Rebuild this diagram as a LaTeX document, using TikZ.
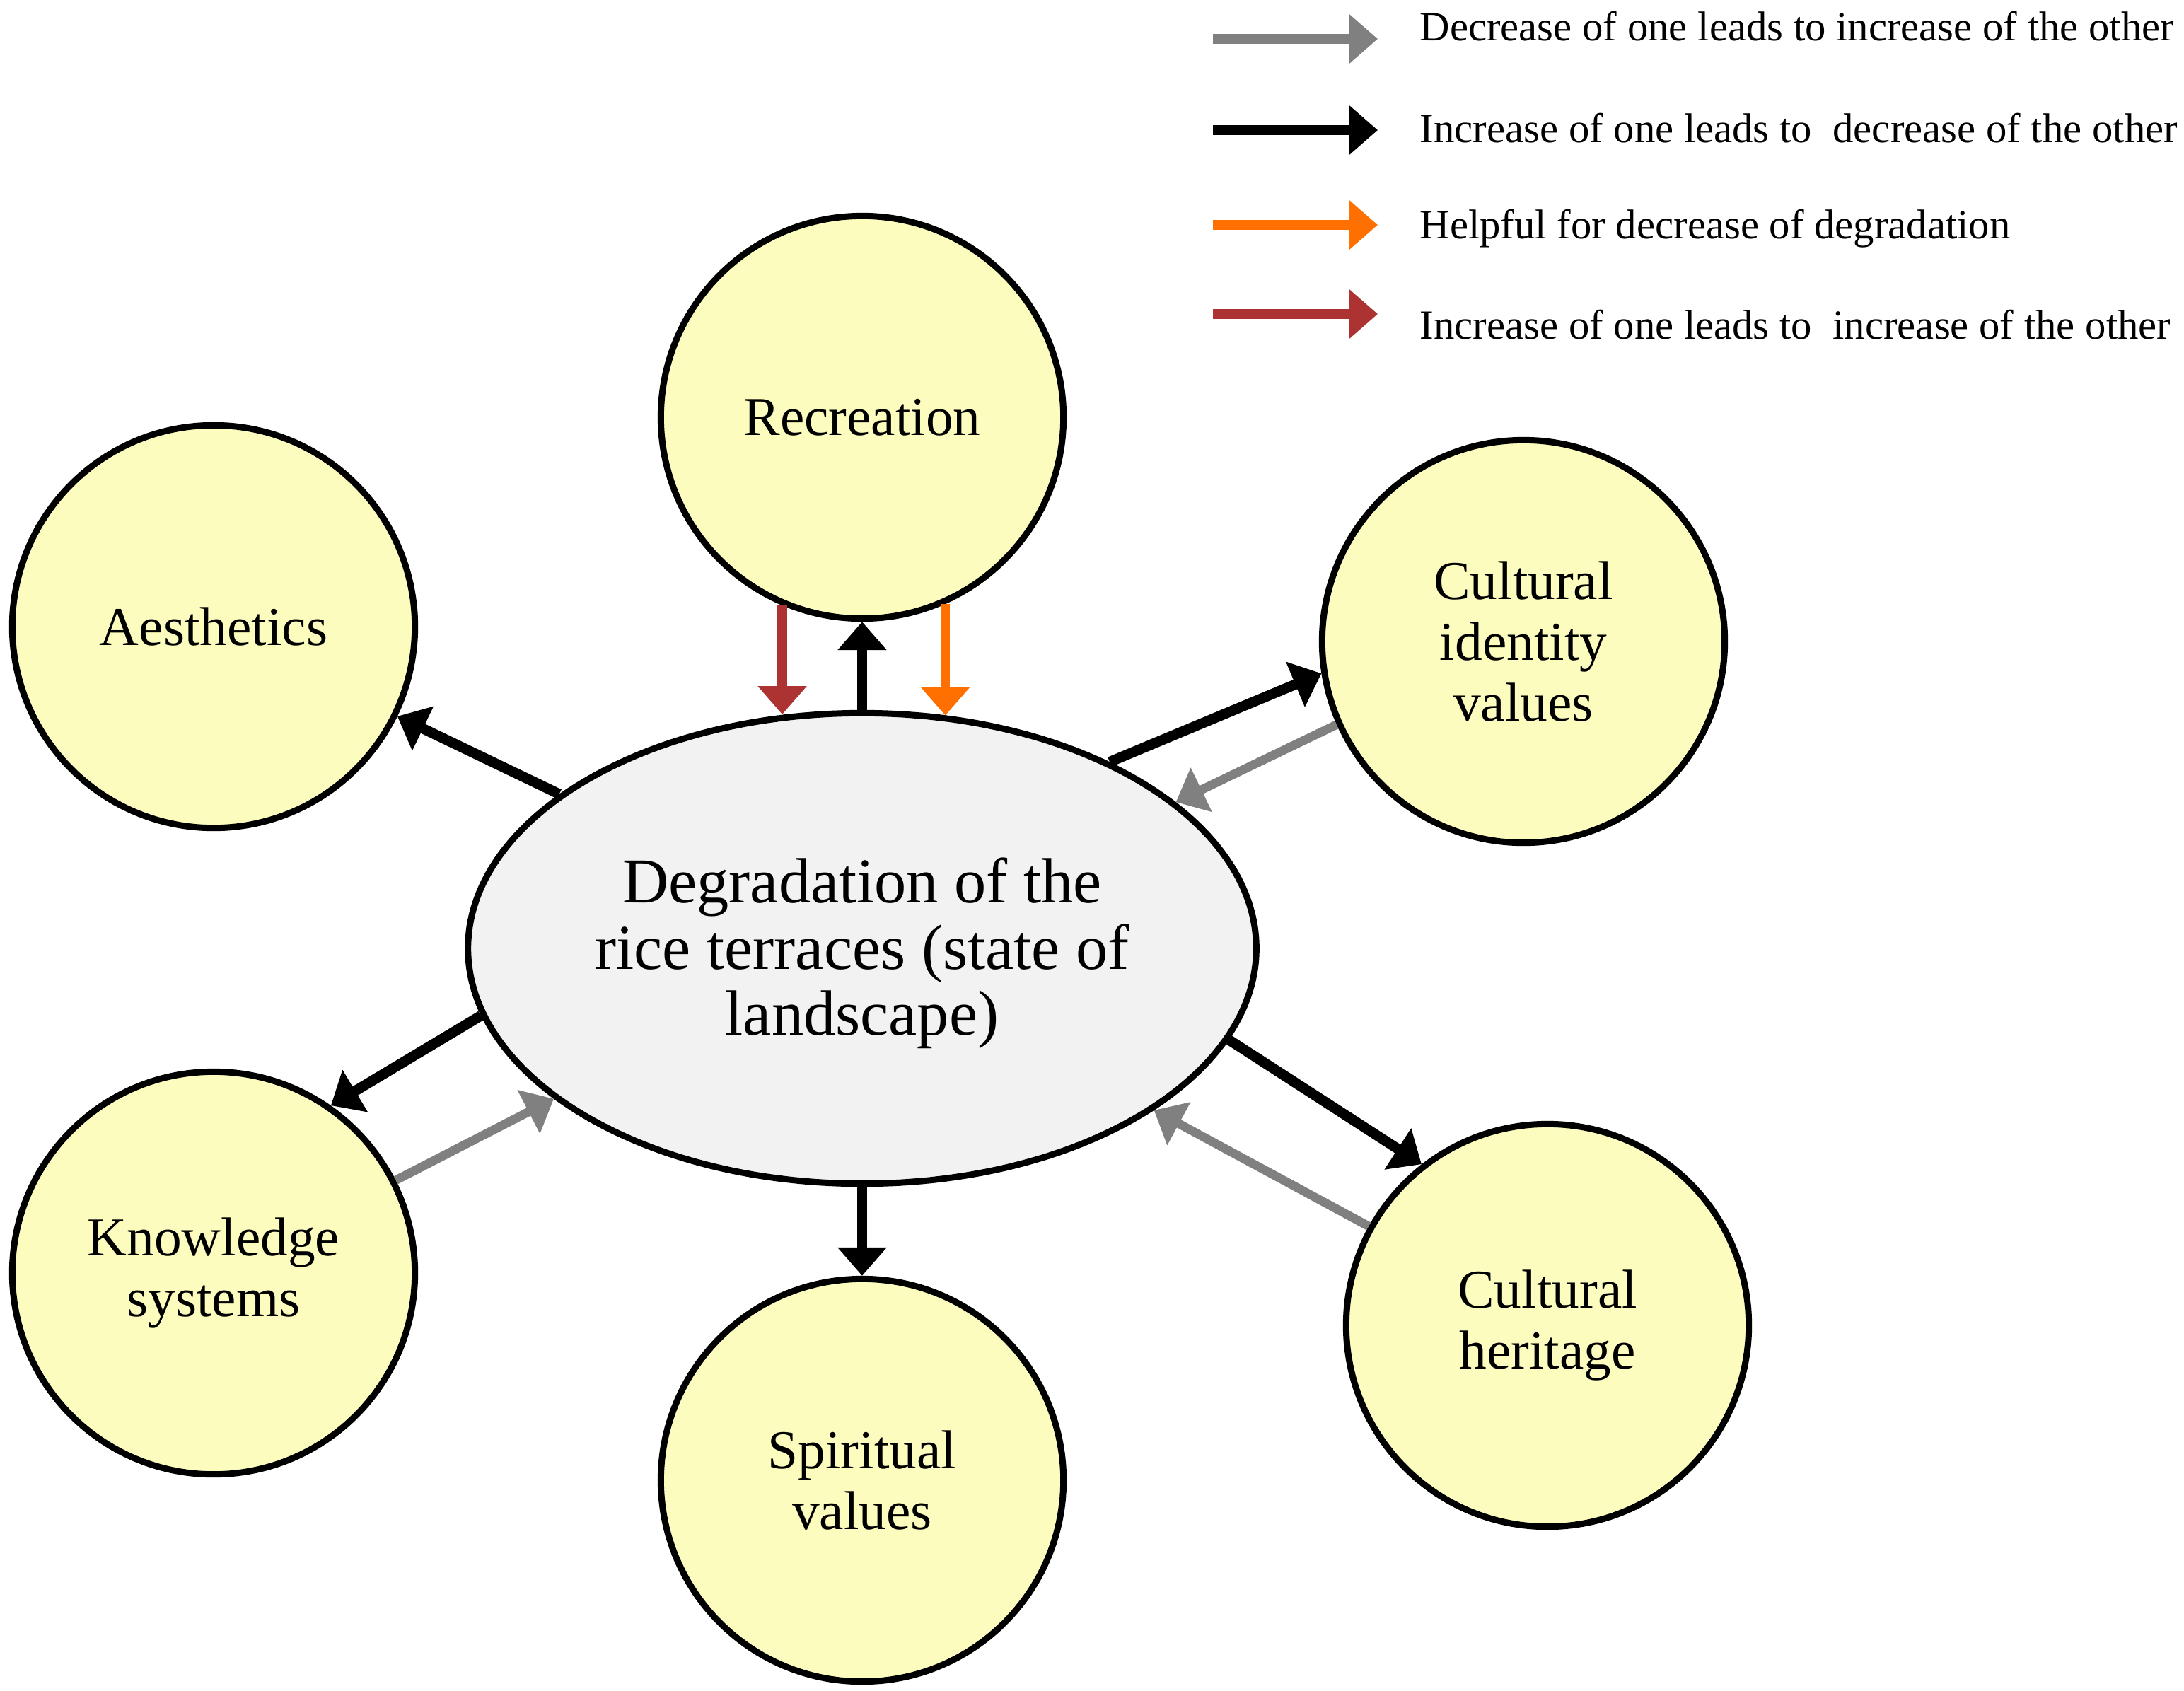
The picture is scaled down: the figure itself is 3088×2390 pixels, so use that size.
\documentclass[tikz,border=0pt]{standalone}
\usepackage{fontspec}
\setmainfont{Liberation Serif}
\usetikzlibrary{arrows.meta,shapes.geometric}
\definecolor{circfill}{RGB}{252,252,190}
\definecolor{ellfill}{RGB}{242,242,242}
\definecolor{arrgray}{RGB}{128,128,128}
\definecolor{arrorange}{RGB}{255,112,0}
\definecolor{arrred}{RGB}{173,51,51}
\begin{document}
\begin{tikzpicture}[x=0.01cm,y=-0.01cm,
  bubble/.style={circle, draw=black, line width=0.09cm, fill=circfill, minimum size=5.69cm, inner sep=0pt, align=center, font=\fontsize{22pt}{24.4pt}\selectfont},
  degbox/.style={ellipse, draw=black, line width=0.09cm, fill=ellfill, minimum width=11.14cm, minimum height=6.65cm, inner sep=0pt, align=center, font=\fontsize{25.7pt}{26.7pt}\selectfont},
  tiphead/.style={-{Triangle[length=0.40cm,width=0.67cm]}},
  blackarr/.style={tiphead, line width=0.145cm, draw=black},
  grayarr/.style={tiphead, line width=0.125cm, draw=arrgray, fill=arrgray},
  redarr/.style={tiphead, line width=0.135cm, draw=arrred, fill=arrred},
  orangearr/.style={tiphead, line width=0.135cm, draw=arrorange, fill=arrorange},
  legarr/.style={tiphead, line width=0.135cm},
  legtext/.style={anchor=base west, inner sep=0pt, font=\fontsize{16.7pt}{18pt}\selectfont}
]
\useasboundingbox (0,0) rectangle (3088,2390);

% nodes
\node[degbox] (deg) at (1219,1341) {\rule{0pt}{22pt}Degradation of the\\rice terraces (state of\\landscape)};
\node[bubble] (rec) at (1219,590) {Recreation};
\node[bubble] (aes) at (302,886) {Aesthetics};
\node[bubble] (cid) at (2154,907) {Cultural\\identity\\values};
\node[bubble] (ks) at (302,1800) {Knowledge\\systems};
\node[bubble] (sp) at (1219,2093) {Spiritual\\values};
\node[bubble] (ch) at (2188,1874) {Cultural\\heritage};

% connectors
\draw[blackarr] (deg.153.6) -- (aes.334);
\draw[blackarr] (deg.north) -- (rec.south);
\draw[redarr] (rec.247.4) -- (rec.247.4 |- deg.108.6);
\draw[orangearr] (rec.294.3) -- (rec.294.3 |- deg.70.1);
\draw[blackarr] (deg.37.2) -- (cid.189.4);
\draw[grayarr] (cid.204.4) -- (deg.25);
\draw[blackarr] (deg.346) -- (ch.128.9);
\draw[grayarr] (ch.151.5) -- (deg.331.1);
\draw[blackarr] (deg.south) -- (sp.north);
\draw[blackarr] (deg.190.9) -- (ks.55.5);
\draw[grayarr] (ks.27) -- (deg.206.4);

% legend
\coordinate (l1s) at (1715,55);  \coordinate (l1e) at (1948,55);
\coordinate (l2s) at (1715,184); \coordinate (l2e) at (1948,184);
\coordinate (l3s) at (1715,318); \coordinate (l3e) at (1948,318);
\coordinate (l4s) at (1715,444); \coordinate (l4e) at (1948,444);
\draw[legarr, draw=arrgray, fill=arrgray] (l1s) -- (l1e);
\draw[legarr, draw=black, fill=black] (l2s) -- (l2e);
\draw[legarr, draw=arrorange, fill=arrorange] (l3s) -- (l3e);
\draw[legarr, draw=arrred, fill=arrred] (l4s) -- (l4e);
\node[legtext] (t1) at (2007,57) {Decrease of one leads to increase of the other};
\node[legtext] (t2) at (2007,201) {Increase of one leads to\ \ decrease of the other};
\node[legtext] (t3) at (2007,337) {Helpful for decrease of degradation};
\node[legtext] (t4) at (2007,479) {Increase of one leads to\ \ increase of the other};
\end{tikzpicture}
\end{document}
